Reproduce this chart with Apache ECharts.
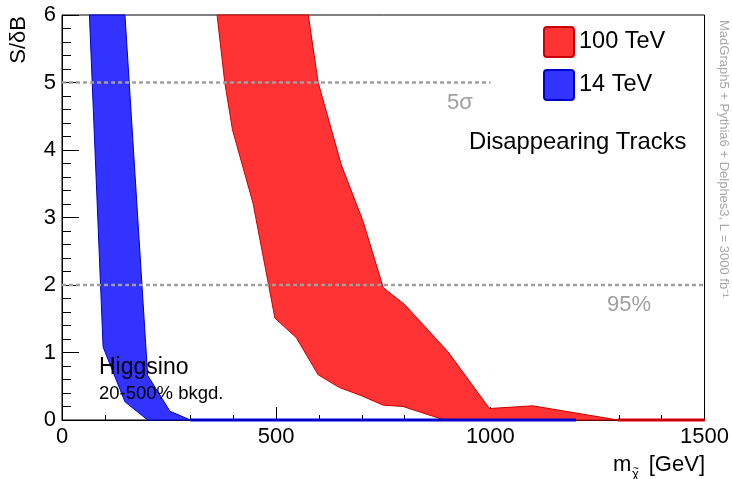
<!DOCTYPE html>
<html>
<head>
<meta charset="utf-8">
<script src="https://cdn.jsdelivr.net/npm/echarts@6/dist/echarts.min.js"></script>
<style>html,body{margin:0;padding:0;background:#fff;}#c{width:732px;height:479px;}</style>
</head>
<body>
<div id="c"></div>
<script>
// ---- data (mass in GeV, S/deltaB) ----
const band100Lower = [[362,6],[380,5.0],[398,4.3],[446,3.21],[497,1.51],[547,1.22],[598,0.67],[648,0.48],[699,0.36],[750,0.22],[796,0.20],[893,0],[1500,0]];
const band100Upper = [[575,6],[598,5.0],[652,3.78],[703,2.94],[750,1.96],[800,1.71],[901,1.01],[998,0.17],[1099,0.21],[1298,0],[1500,0]];
const band14Lower = [[64,6],[96,1.08],[147,0.27],[200,0],[1200,0]];
const band14Upper = [[147,6],[200,0.66],[252,0.13],[300,0],[1200,0]];
const line5sigma = [[0,5],[1000,5]];
const line95 = [[0,2],[1500,2]];
const seriesNames = ['100 TeV','14 TeV'];
const xTicks = [0,500,1000,1500];
const yTicks = [0,1,2,3,4,5,6];

const FONT = "'Liberation Sans', Arial, Helvetica, sans-serif";
const chart = echarts.init(document.getElementById('c'), null, {renderer:'canvas'});

function bandRender(lower, upper, fill, edge) {
  return function (params, api) {
    if (params.dataIndex !== 0) return null;
    const pts = lower.map(p => api.coord(p)).concat(upper.slice().reverse().map(p => api.coord(p)));
    const children = [{
      type: 'polygon',
      shape: { points: pts },
      style: { fill: fill, stroke: edge, lineWidth: 1 }
    }];
    const zeroPts = upper.filter(p => p[1] === 0).map(p => api.coord(p));
    if (zeroPts.length > 1) {
      children.push({ type: 'polyline', shape: { points: zeroPts }, style: { stroke: edge, lineWidth: 3, fill: null } });
    }
    return { type: 'group', children: children };
  };
}

const boxIcon = 'path://M3,0 L27,0 Q30,0 30,3 L30,27 Q30,30 27,30 L3,30 Q0,30 0,27 L0,3 Q0,0 3,0 Z';

const option = {
  animation: false,
  backgroundColor: '#fff',
  textStyle: { fontFamily: FONT },
  grid: { left: 62, right: 27, top: 15, bottom: 59, show: true, borderColor: '#000', borderWidth: 1, containLabel: false },
  xAxis: {
    type: 'value', min: 0, max: 1500, interval: 500,
    axisLine: { show: true, lineStyle: { color: '#000', width: 1 } },
    axisTick: { show: true, inside: true, length: 13, lineStyle: { color: '#000' } },
    minorTick: { show: true, splitNumber: 5, length: 5, lineStyle: { color: '#000' } },
    axisLabel: { color: '#000', fontSize: 22, margin: 6, fontFamily: FONT,
      formatter: v => (xTicks.indexOf(v) >= 0 ? String(v) : '') },
    splitLine: { show: false }
  },
  yAxis: {
    type: 'value', min: 0, max: 6, interval: 1,
    axisLine: { show: true, lineStyle: { color: '#000', width: 1 } },
    axisTick: { show: true, inside: true, length: 17, lineStyle: { color: '#000' } },
    minorTick: { show: true, splitNumber: 5, length: 9, lineStyle: { color: '#000' } },
    axisLabel: { color: '#000', fontSize: 22, margin: 6, fontFamily: FONT,
      formatter: v => (yTicks.indexOf(v) >= 0 ? String(v) : '') },
    splitLine: { show: false }
  },
  legend: {
    orient: 'vertical', left: 543, top: 26, padding: 0,
    itemWidth: 30, itemHeight: 30, itemGap: 11, icon: boxIcon,
    textStyle: { fontSize: 23.5, color: '#000', fontFamily: FONT },
    selectedMode: false,
    data: [
      { name: seriesNames[0], itemStyle: { color: '#ff3333', borderColor: '#cc0000', borderWidth: 2 } },
      { name: seriesNames[1], itemStyle: { color: '#3333ff', borderColor: '#0000cc', borderWidth: 2 } }
    ]
  },
  series: [
    { type: 'custom', name: seriesNames[0], coordinateSystem: 'cartesian2d', clip: false, silent: true,
      itemStyle: { color: '#ff3333', borderColor: '#cc0000' },
      data: [[band100Lower[0][0], band100Lower[0][1]]],
      renderItem: bandRender(band100Lower, band100Upper, '#ff3333', '#cc0000'), z: 2 },
    { type: 'custom', name: seriesNames[1], coordinateSystem: 'cartesian2d', clip: false, silent: true,
      itemStyle: { color: '#3333ff', borderColor: '#0000cc' },
      data: [[band14Lower[0][0], band14Lower[0][1]]],
      renderItem: bandRender(band14Lower, band14Upper, '#3333ff', '#0000cc'), z: 3 },
    { type: 'line', name: '5sigma', data: line5sigma, symbol: 'none', silent: true, z: 4,
      lineStyle: { color: '#a0a0a0', width: 2.5, type: [4, 3] } },
    { type: 'line', name: '95', data: line95, symbol: 'none', silent: true, z: 4,
      lineStyle: { color: '#a0a0a0', width: 2.5, type: [4, 3] } }
  ],
  graphic: [
    { type: 'text', x: 447, y: 103, z: 10, style: { text: '5σ', fill: '#a0a0a0', font: '22px ' + FONT, textAlign: 'left', textVerticalAlign: 'middle' } },
    { type: 'text', x: 607, y: 305, z: 10, style: { text: '95%', fill: '#a0a0a0', font: '22px ' + FONT, textAlign: 'left', textVerticalAlign: 'middle' } },
    { type: 'text', x: 469, y: 142, z: 10, style: { text: 'Disappearing Tracks', fill: '#000', font: '23.8px ' + FONT, textAlign: 'left', textVerticalAlign: 'middle' } },
    { type: 'text', x: 99, y: 368, z: 10, style: { text: 'Higgsino', fill: '#000', font: '23px ' + FONT, textAlign: 'left', textVerticalAlign: 'middle' } },
    { type: 'text', x: 99, y: 394, z: 10, style: { text: '20-500% bkgd.', fill: '#000', font: '18.5px ' + FONT, textAlign: 'left', textVerticalAlign: 'middle' } },
    { type: 'text', x: 19, y: 16, rotation: Math.PI / 2, z: 10, style: { text: 'S/δB', fill: '#000', font: '22px ' + FONT, textAlign: 'right', textVerticalAlign: 'middle' } },
    { type: 'text', x: 705, y: 476, z: 10, style: { text: '[GeV]', fill: '#000', font: '22px ' + FONT, textAlign: 'right', textVerticalAlign: 'bottom' } },
    { type: 'text', x: 613, y: 476, z: 10, style: { text: 'm', fill: '#000', font: '22px ' + FONT, textAlign: 'left', textVerticalAlign: 'bottom' } },
    { type: 'text', x: 632, y: 481, z: 10, style: { text: 'χ', fill: '#000', font: '13px ' + FONT, textAlign: 'left', textVerticalAlign: 'bottom' } },
    { type: 'text', x: 633, y: 474, z: 10, style: { text: '~', fill: '#000', font: '10px ' + FONT, textAlign: 'left', textVerticalAlign: 'bottom' } },
    { type: 'text', x: 724, y: 20, rotation: -Math.PI / 2, z: 10, style: { text: 'MadGraph5 + Pythia6 + Delphes3, L = 3000 fb⁻¹', fill: '#a8a8a8', font: '13px ' + FONT, textAlign: 'left', textVerticalAlign: 'middle' } }
  ]
};
chart.setOption(option);
</script>
</body>
</html>
